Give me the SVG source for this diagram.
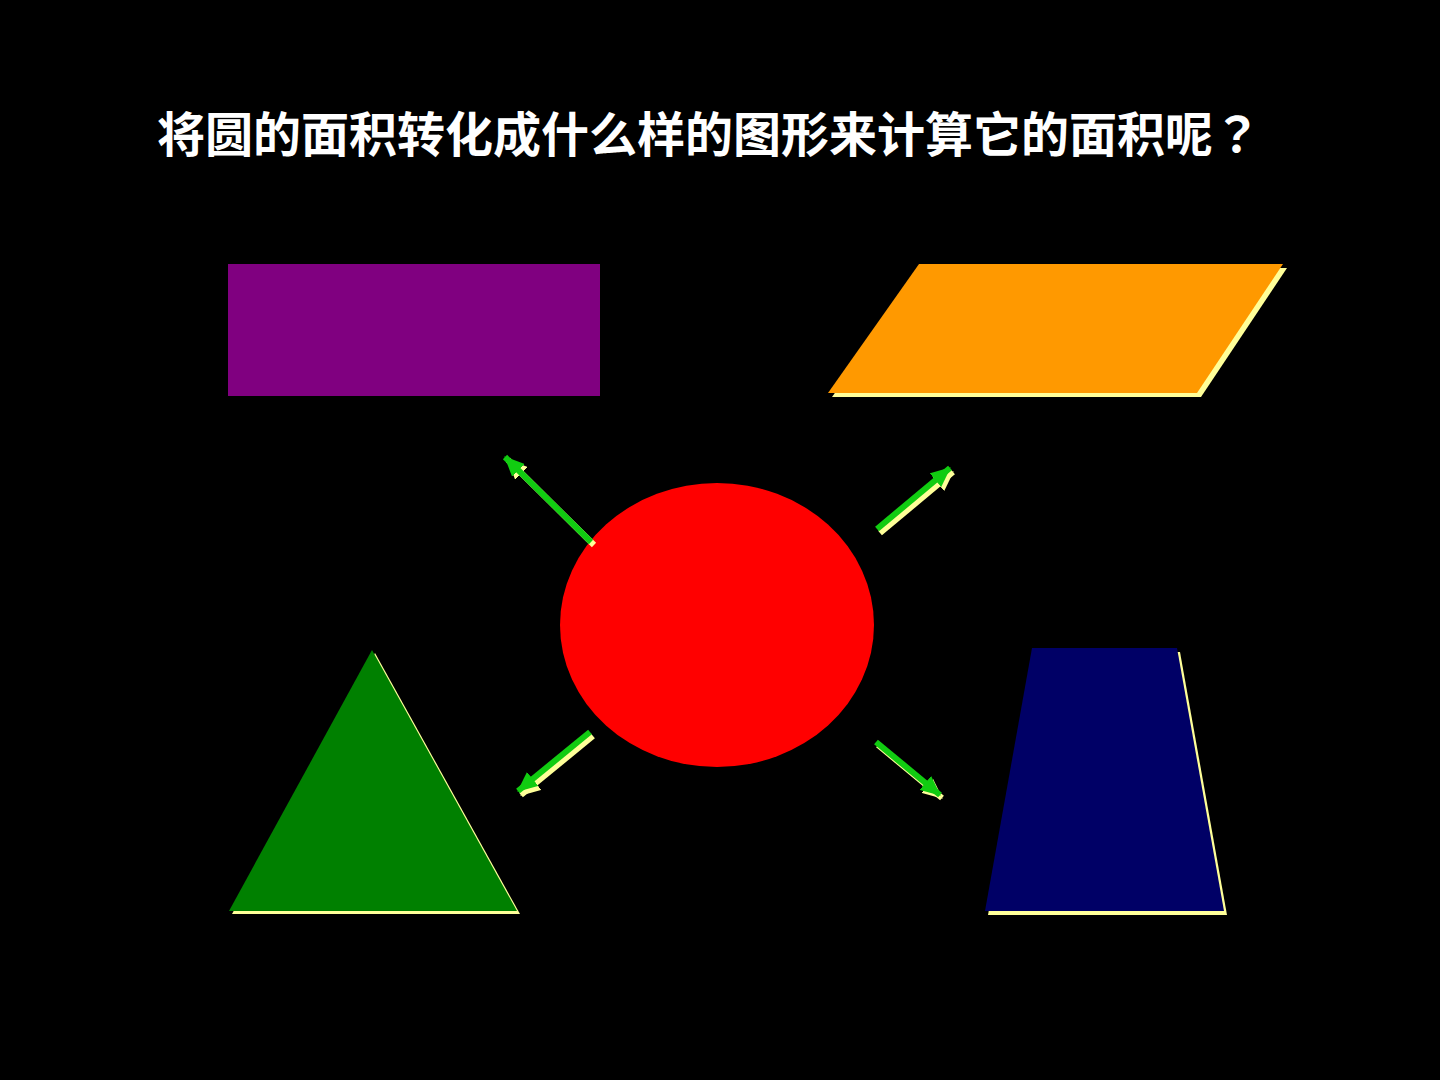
<svg xmlns="http://www.w3.org/2000/svg" width="1440" height="1080" viewBox="0 0 1440 1080">
<defs>
<marker id="hg" viewBox="0 0 20 18" refX="19" refY="9" markerWidth="20" markerHeight="18" markerUnits="userSpaceOnUse" orient="auto"><path d="M0,0 L20,9 L0,18 Z" fill="#11CC11"/></marker>
<marker id="hy" viewBox="0 0 20 18" refX="19" refY="9" markerWidth="20" markerHeight="18" markerUnits="userSpaceOnUse" orient="auto"><path d="M0,0 L20,9 L0,18 Z" fill="#FFFF99"/></marker>
</defs>
<style>
.title{font-family:"Noto Sans CJK SC","Noto Sans",sans-serif;font-weight:bold;font-size:48px;fill:#FFFFFF}
.q{font-family:"Noto Sans CJK TC","Noto Sans CJK SC",sans-serif}
.sh{fill:#FFFF99}
.ag{stroke:#11CC11;stroke-width:6;fill:none;marker-end:url(#hg)}
.ay{stroke:#FFFF99;stroke-width:6;fill:none;marker-end:url(#hy)}
</style>
<rect x="0" y="0" width="1440" height="1080" fill="#000000"/>
<text class="title" x="157" y="152">将圆的面积转化成什么样的图形来计算它的面积呢<tspan class="q">？</tspan></text>
<g id="rectangle"><rect x="228" y="264" width="372" height="132" fill="#800080"/></g>
<g id="parallelogram">
<polygon class="sh" points="923,268 1287,268 1201,397 832,397"/>
<polygon points="919,264 1283,264 1197,393 828,393" fill="#FF9900"/>
</g>
<g id="circle"><ellipse cx="717" cy="625" rx="157" ry="142" fill="#FF0000"/></g>
<g id="triangle">
<polygon class="sh" points="375,653 520,914 232,914"/>
<polygon points="372,650 517,911 229,911" fill="#008000"/>
</g>
<g id="trapezoid">
<polygon class="sh" points="1035,652 1180,652 1227,915 988,915"/>
<polygon points="1032,648 1177,648 1224,911 985,911" fill="#000066"/>
</g>
<g id="connectors">
<line class="ay" x1="594" y1="545" x2="508" y2="460"/>
<line class="ag" x1="591" y1="542" x2="505" y2="457"/>
<line class="ay" x1="880" y1="533" x2="953" y2="472"/>
<line class="ag" x1="877" y1="529" x2="950" y2="468"/>
<line class="ay" x1="593" y1="736" x2="521" y2="795"/>
<line class="ag" x1="590" y1="732" x2="518" y2="791"/>
<line class="ay" x1="878" y1="745" x2="942" y2="798"/>
<line class="ag" x1="876" y1="742" x2="940" y2="795"/>
</g>
</svg>
